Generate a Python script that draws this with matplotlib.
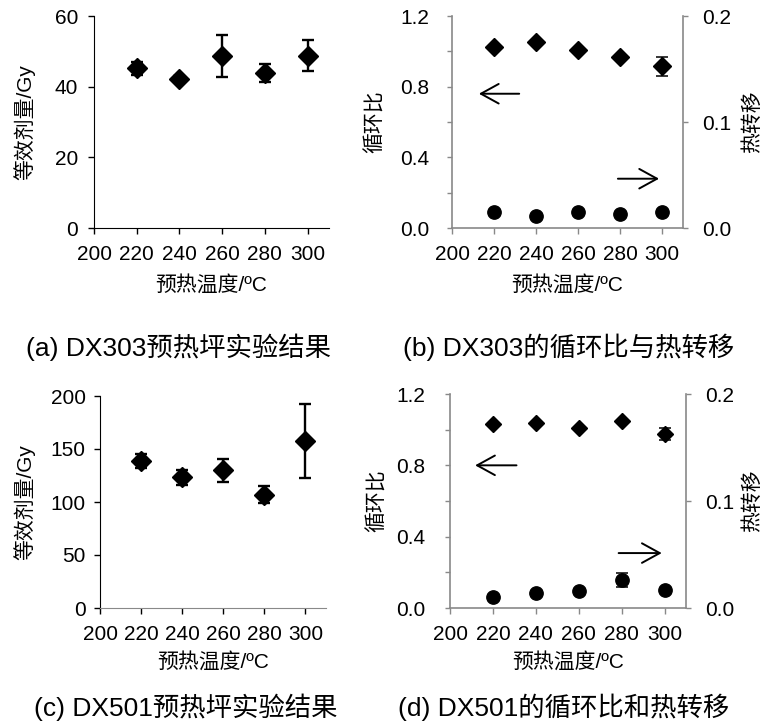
import matplotlib
matplotlib.use('Agg')
import matplotlib.pyplot as plt

plt.rcParams['font.family'] = ['Liberation Sans', 'Noto Sans CJK SC']

# data
temps = [220, 240, 260, 280, 300]
x_ticks = [200, 220, 240, 260, 280, 300]

a_de = [45.2, 42.3, 48.6, 43.9, 48.7]
a_err = [1.8, 0.8, 6.0, 2.6, 4.4]

b_ratio = [1.025, 1.05, 1.01, 0.97, 0.915]
b_ratio_err = [0.01, 0.01, 0.01, 0.01, 0.055]
b_transfer = [0.0147, 0.011, 0.0147, 0.0135, 0.015]

c_de = [138.7, 123.3, 130.0, 107.0, 157.5]
c_err = [6.6, 7.0, 10.8, 7.9, 35.0]

d_ratio = [1.033, 1.039, 1.011, 1.05, 0.977]
d_ratio_err = [0.0, 0.0, 0.0, 0.0, 0.035]
d_transfer = [0.0106, 0.014, 0.0155, 0.026, 0.0168]
d_transfer_err = [0.0, 0.0, 0.0, 0.0065, 0.0]

ratio_ticks = [0, 0.2, 0.4, 0.6, 0.8, 1.0, 1.2]
ratio_labels = ['0.0', '', '0.4', '', '0.8', '', '1.2']
transfer_ticks = [0, 0.1, 0.2]
transfer_labels = ['0.0', '0.1', '0.2']

xlabel = '预热温度/ºC'
de_label = '等效剂量/Gy'
ratio_label = '循环比'
transfer_label = '热转移'
captions = ['(a) DX303预热坪实验结果', '(b) DX303的循环比与热转移',
            '(c) DX501预热坪实验结果', '(d) DX501的循环比和热转移']

GRAY = '#898989'
W, H = 765, 725
TICK = 15
LAB = 15

fig = plt.figure(figsize=(W / 100, H / 100), dpi=100)


def px_axes(l, t, r, b):
    return fig.add_axes([l / W, 1 - b / H, (r - l) / W, (b - t) / H])


def style_x(ax, pad):
    ax.set_xlim(200, 310)
    ax.set_xticks(x_ticks)
    ax.tick_params(axis='x', direction='out', length=4.3, width=1,
                   labelsize=TICK, pad=pad)
    for s in ['top', 'right']:
        ax.spines[s].set_visible(False)


def dose_panel(box, y, yerr, ylim, yticks, ylab_x, xlab_y, ypad, ms, bottom_color):
    ax = px_axes(*box)
    ax.errorbar(temps, y, yerr=yerr, fmt='D', color='black', ms=ms,
                elinewidth=1.7, capsize=4.5, capthick=1.7)
    style_x(ax, 8)
    ax.set_ylim(*ylim)
    ax.set_yticks(yticks)
    ax.tick_params(axis='y', direction='out', length=4.3, width=1,
                   labelsize=TICK, pad=ypad)
    ax.spines['left'].set_color('black')
    ax.spines['bottom'].set_color(bottom_color)
    ax.set_ylabel(de_label, fontsize=LAB)
    ax.yaxis.set_label_coords(ylab_x, 0.5)
    ax.set_xlabel(xlabel, fontsize=LAB)
    ax.xaxis.set_label_coords(0.5, xlab_y)
    return ax


def ratio_panel(box, ratio, ratio_err, transfer, transfer_err, arrows,
                ylab_x, y2lab_x, xlab_y, ypad, ms):
    ax = px_axes(*box)
    ax.errorbar(temps, ratio, yerr=ratio_err, fmt='D', color='black', ms=ms,
                elinewidth=1.1, capsize=4, capthick=1.1)
    style_x(ax, 8)
    ax.set_ylim(0, 1.2)
    ax.set_yticks(ratio_ticks)
    ax.set_yticklabels(ratio_labels)
    ax.tick_params(axis='both', color=GRAY)
    ax.tick_params(axis='y', direction='out', length=3.5, width=1,
                   labelsize=TICK, pad=ypad)
    for s in ['left', 'bottom']:
        ax.spines[s].set_color(GRAY)
        ax.spines[s].set_linewidth(1.2)
    ax.set_ylabel(ratio_label, fontsize=LAB)
    ax.yaxis.set_label_coords(ylab_x, 0.5)
    ax.set_xlabel(xlabel, fontsize=LAB)
    ax.xaxis.set_label_coords(0.5, xlab_y)

    ax2 = ax.twinx()
    ax2.errorbar(temps, transfer, yerr=transfer_err, fmt='o', color='black',
                 ms=9.6, elinewidth=1.1, capsize=4, capthick=1.1)
    ax2.set_ylim(0, 0.2)
    ax2.set_yticks(transfer_ticks)
    ax2.set_yticklabels(transfer_labels)
    ax2.tick_params(axis='y', direction='out', length=3.5, width=1,
                    color=GRAY, labelsize=TICK, pad=10)
    for s in ['top', 'left', 'bottom']:
        ax2.spines[s].set_visible(False)
    ax2.spines['right'].set_color(GRAY)
    ax2.spines['right'].set_linewidth(1.2)
    ax2.set_ylabel(transfer_label, fontsize=LAB)
    ax2.yaxis.set_label_coords(y2lab_x, 0.5)

    for tail, tip in arrows:
        ax.annotate('', xy=tip, xytext=tail,
                    arrowprops=dict(arrowstyle='->, head_length=0.4, head_width=0.22',
                                    lw=1.4, color='black', mutation_scale=32,
                                    shrinkA=0, shrinkB=0))
    return ax


dose_panel((94, 16, 329, 228), a_de, a_err, (0, 60), [0, 20, 40, 60],
           -0.251, -0.222, 7, 9.9, 'black')
ratio_panel((452, 16, 683, 228), b_ratio, b_ratio_err, b_transfer, None,
            [((232, 0.76), (212.8, 0.76)), ((279, 0.279), (298.6, 0.279))],
            -0.29, 1.255, -0.222, 13, 8.9)
dose_panel((100, 396, 326, 608), c_de, c_err, (0, 200), [0, 50, 100, 150, 200],
           -0.288, -0.206, 6, 10.1, GRAY)
ratio_panel((450, 394, 686, 608), d_ratio, d_ratio_err, d_transfer, d_transfer_err,
            [((231, 0.80), (211.7, 0.80)), ((278.6, 0.308), (298.7, 0.308))],
            -0.267, 1.237, -0.206, 14, 8.1)

cap_pos = [(26, 347), (403, 347), (34, 707), (398, 707)]
for (cx, cy), txt in zip(cap_pos, captions):
    fig.text(cx / W, 1 - cy / H, txt, fontsize=19, ha='left', va='center')

fig.savefig('out.png', dpi=100)
